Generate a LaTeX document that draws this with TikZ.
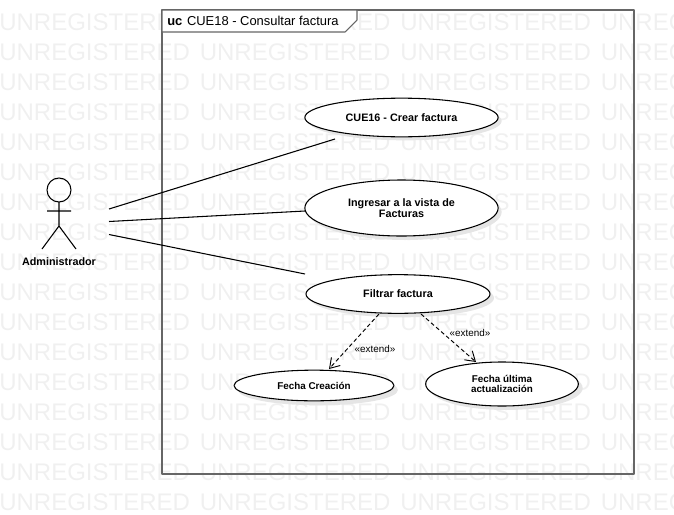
\documentclass[tikz,border=0pt]{standalone}
\usepackage{fontspec}
\setmainfont{Liberation Sans}
\usetikzlibrary{shapes.geometric,arrows.meta}
\definecolor{wmgray}{HTML}{F0F0F0}
\definecolor{framegray}{HTML}{666666}
\begin{document}
\begin{tikzpicture}[x=0.75pt,y=-0.75pt,line join=round,>={Straight Barb[length=7pt,width=9pt]}]
	\tikzset{
		watermark/.style={anchor=west,inner sep=0pt,text=wmgray,font=\fontsize{18}{18}\selectfont},
		usecase/.style={ellipse,draw=black,fill=white,line width=0.8pt,inner sep=0pt,align=center,font=\fontsize{8.1}{8.2}\selectfont\bfseries},
		smallcase/.style={usecase,font=\fontsize{7.4}{7.4}\selectfont\bfseries},
		stereo/.style={inner sep=0pt,font=\fontsize{7.4}{9}\selectfont},
		assoc/.style={line width=0.8pt},
		extendarrow/.style={->,dashed,line width=0.7pt,dash pattern=on 3pt off 2pt},
		shadowcase/.style={ellipse,fill=black!10,draw=none,inner sep=0pt}
	}
	\useasboundingbox (0,0) rectangle (674,514);
	% watermark rows
	\begin{scope}
		\clip (0,0) rectangle (674,514);
		\foreach \r in {0,...,16}
			\foreach \c in {0,...,3}
				\node[watermark] (wm-\r-\c) at ({\c*200.5-1},{22+\r*30}) {UNREGISTERED};
	\end{scope}
	% frame
	\draw[framegray,line width=1.1pt] (162,10) rectangle (634,474);
	\draw[framegray,fill=white,line width=0.8pt] (162,10)--(357,10)--(357,20)--(345,32)--(162,32)--cycle;
	\node[anchor=west,inner sep=0pt,font=\fontsize{9.7}{12}\selectfont] (title) at (167,20.5) {\textbf{uc}\hspace{3.5pt}CUE18 - Consultar factura};
	% actor
	\draw[line width=0.8pt] (59,190) circle (12);
	\coordinate (neck) at (59,202);
	\coordinate (hip) at (59,226);
	\coordinate (armL) at (47,211);
	\coordinate (armR) at (71,211);
	\coordinate (footL) at (42,249);
	\coordinate (footR) at (76,249);
	\draw[line width=0.8pt] (neck)--(hip) (armL)--(armR) (footL)--(hip)--(footR);
	\node[inner sep=0pt,font=\fontsize{8.1}{10}\selectfont\bfseries] (admin) at (59,261.5) {Administrador};
	% use cases
	\node[shadowcase,minimum width=145pt,minimum height=29pt] at (405,121) {};
	\node[shadowcase,minimum width=145pt,minimum height=42pt] at (405,212) {};
	\node[shadowcase,minimum width=138pt,minimum height=29pt] at (402,298) {};
	\node[shadowcase,minimum width=120pt,minimum height=23pt] at (318,390) {};
	\node[shadowcase,minimum width=115pt,minimum height=33pt] at (506,388) {};
	\node[usecase,minimum width=145pt,minimum height=29pt] (crear) at (401.5,117.5) {CUE16 - Crear factura};
	\node[usecase,minimum width=145pt,minimum height=42pt] (ingresar) at (401.5,208) {Ingresar a la vista de\\Facturas};
	\node[usecase,minimum width=138pt,minimum height=29pt] (filtrar) at (398,294) {Filtrar factura};
	\node[smallcase,minimum width=120pt,minimum height=23pt] (creacion) at (314,385.5) {Fecha Creación};
	\node[smallcase,minimum width=114.5pt,minimum height=33pt] (ultima) at (502,384) {Fecha última\\actualización};
	% associations
	\coordinate (a1) at (109,209);
	\coordinate (a2) at (109,221.5);
	\coordinate (a3) at (109,234.5);
	\coordinate (e1) at (335,139);
	\coordinate (e2) at (305,211);
	\coordinate (e3) at (305,274);
	\draw[assoc] (a1)--(e1);
	\draw[assoc] (a2)--(e2);
	\draw[assoc] (a3)--(e3);
	% extend
	\coordinate (s1) at (379,314);
	\coordinate (t1) at (329,369);
	\coordinate (s2) at (421,314);
	\coordinate (t2) at (476,362);
	\draw[extendarrow] (s1)--(t1);
	\draw[extendarrow] (s2)--(t2);
	\node[stereo] (ext1) at (375,349) {«extend»};
	\node[stereo] (ext2) at (470,332.5) {«extend»};
\end{tikzpicture}
\end{document}
